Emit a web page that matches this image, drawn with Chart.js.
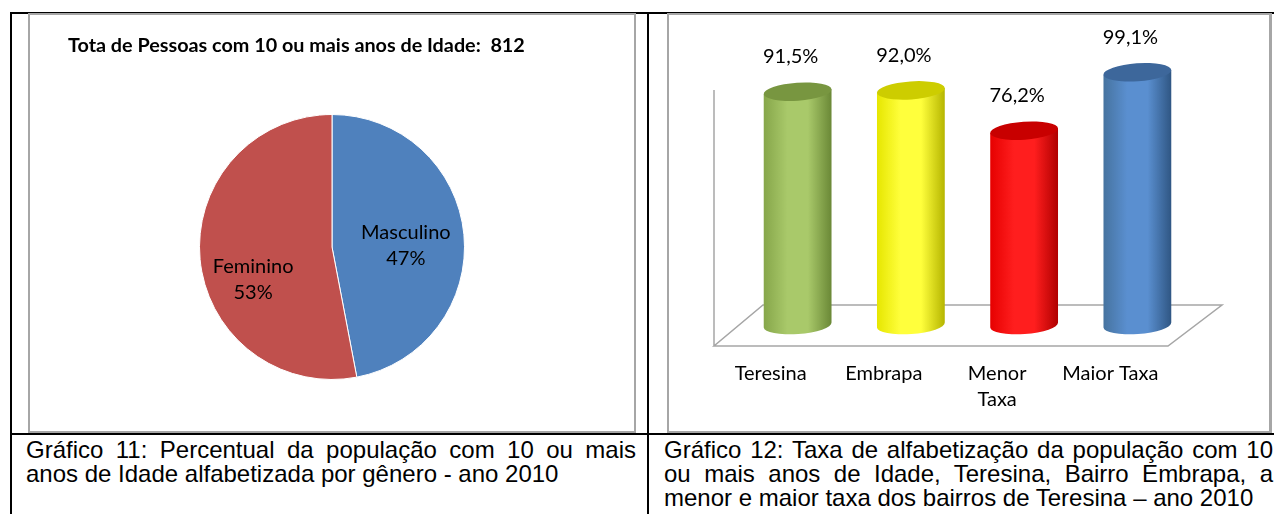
<!DOCTYPE html>
<html lang="pt-BR">
<head>
<meta charset="utf-8">
<script src="https://cdn.jsdelivr.net/npm/chart.js@4.4.1/dist/chart.umd.min.js"></script>
<style>
  html, body { margin: 0; padding: 0; background: #fff; }
  body { position: relative; width: 1274px; height: 514px; overflow: hidden; font-family: "Liberation Sans", Arial, sans-serif; }
  .rule { position: absolute; background: #000; }
  .frame { position: absolute; box-sizing: border-box; border: 2px solid #a6a6a6; background: #fff; }
  canvas { position: absolute; }
  .caption { position: absolute; top: 438px; font-size: 24px; line-height: 24px; color: #000; }
  .caption .j { text-align: justify; text-align-last: justify; }
</style>
</head>
<body>
<div class="rule" style="left:10px;top:12px;width:1264px;height:2px"></div>
<div class="rule" style="left:10px;top:12px;width:2px;height:502px"></div>
<div class="rule" style="left:647px;top:12px;width:2px;height:502px"></div>
<div class="rule" style="left:10px;top:433px;width:1264px;height:2px"></div>

<div class="frame" style="left:28px;top:13px;width:608px;height:420px"></div>
<div class="frame" style="left:667px;top:13px;width:605px;height:420px;border-right-width:3px"></div>

<canvas id="pie" width="604" height="416" style="left:30px;top:15px;width:604px;height:416px"></canvas>
<canvas id="bars" width="601" height="416" style="left:669px;top:15px;width:601px;height:416px"></canvas>

<div class="caption" style="left:26px;width:610px">
  <div class="j">Gráfico 11: Percentual da população com 10 ou mais</div>
  <div>anos de Idade alfabetizada por gênero - ano 2010</div>
</div>
<div class="caption" style="left:664px;width:609px">
  <div class="j">Gráfico 12: Taxa de alfabetização da população com 10</div>
  <div class="j">ou mais anos de Idade, Teresina, Bairro Embrapa, a</div>
  <div>menor e maior taxa dos bairros de Teresina – ano 2010</div>
</div>

<script>
// ── dados ───────────────────────────────────────────────────────────────
const pieTitle   = 'Tota de Pessoas com 10 ou mais anos de Idade:  812';
const genders    = ['Masculino', 'Feminino'];
const genderPct  = [47, 53];

const places     = ['Teresina', 'Embrapa', ['Menor', 'Taxa'], 'Maior Taxa'];
const literacy   = [91.5, 92.0, 76.2, 99.1];

// ── estilos ─────────────────────────────────────────────────────────────
const FONT = 'Lato, "Open Sans", sans-serif';
const pieColors = ['#4F81BD', '#C0504D'];
const cylColors = [
    { edge: '#86A64A', light: '#A9C96A', dark: '#6A8836', top: '#789640' },
    { edge: '#E6E600', light: '#FFFF3C', dark: '#B5B500', top: '#CDCD00' },
    { edge: '#E60000', light: '#FF1E1E', dark: '#B00000', top: '#C80000' },
    { edge: '#46739F', light: '#5A8FD0', dark: '#2F5683', top: '#3D679B' },
];

Chart.defaults.font.family = FONT;
Chart.defaults.color = '#000';

// ── gráfico 11: pizza ──────────────────────────────────────────────────
const pieLabels = {
    id: 'pieLabels',
    afterDatasetsDraw(chart, args, opts) {
        const { ctx } = chart;
        const meta = chart.getDatasetMeta(0);
        const data = chart.data.datasets[0].data;
        const total = data.reduce((a, b) => a + b, 0);
        ctx.save();
        ctx.font = '20px ' + FONT;
        ctx.fillStyle = '#000';
        ctx.textAlign = 'center';
        ctx.textBaseline = 'middle';
        meta.data.forEach((arc, i) => {
            const mid = (arc.startAngle + arc.endAngle) / 2;
            const r = arc.outerRadius * opts.radius;
            const [nx, ny] = opts.nudge[i] || [0, 0];
            const x = arc.x + Math.cos(mid) * r + nx;
            const y = arc.y + Math.sin(mid) * r + ny;
            ctx.fillText(chart.data.labels[i], x, y - 13);
            ctx.fillText(Math.round(data[i] / total * 100) + '%', x, y + 13);
        });
        // título
        ctx.font = 'bold 19.8px ' + FONT;
        ctx.textAlign = 'left';
        ctx.fillText(pieTitle, 38, 31);
        ctx.restore();
    }
};

new Chart(document.getElementById('pie'), {
    type: 'pie',
    data: {
        labels: genders,
        datasets: [{ data: genderPct, backgroundColor: pieColors, borderColor: '#ffffff', borderWidth: 1 }]
    },
    options: {
        responsive: false, animation: false,
        layout: { padding: { left: 169, right: 169, top: 99, bottom: 51 } },
        plugins: {
            legend: { display: false }, tooltip: { enabled: false },
            pieLabels: { radius: 0.56, nudge: [[0, 6], [-5, 26]] }
        }
    },
    plugins: [pieLabels]
});

// ── gráfico 12: cilindros 3D ───────────────────────────────────────────
const floor3d = {
    id: 'floor3d',
    beforeDatasetsDraw(chart) {
        const { ctx, chartArea: a, scales: { y } } = chart;
        const y0 = y.getPixelForValue(0);
        ctx.save();
        ctx.strokeStyle = '#a6a6a6';
        ctx.lineWidth = 1.5;
        ctx.beginPath();
        ctx.moveTo(a.left - 27, y0 + 21);
        ctx.lineTo(a.right - 26, y0 + 21);
        ctx.lineTo(a.right + 28, y0 - 20);
        ctx.lineTo(a.left + 22, y0 - 20);
        ctx.closePath();
        ctx.moveTo(a.left - 27, y0 + 21);
        ctx.lineTo(a.left - 27, a.top + 20);
        ctx.stroke();
        ctx.restore();
    }
};

const cylinders = {
    id: 'cylinders',
    afterDatasetsDraw(chart) {
        const { ctx } = chart;
        const meta = chart.getDatasetMeta(0);
        const ry = 9, rot = -0.07;
        ctx.save();
        meta.data.forEach((bar, i) => {
            const c = cylColors[i];
            const rx = bar.width / 2;
            const cx = bar.x;
            const dx = Math.cos(rot) * rx, dy = Math.sin(rot) * rx;
            const g = ctx.createLinearGradient(cx - rx, 0, cx + rx, 0);
            g.addColorStop(0, c.edge);
            g.addColorStop(0.35, c.light);
            g.addColorStop(0.65, c.light);
            g.addColorStop(1, c.dark);
            ctx.beginPath();
            ctx.moveTo(cx - dx, bar.y - dy);
            ctx.lineTo(cx - dx, bar.base - dy);
            ctx.ellipse(cx, bar.base, rx, ry, rot, Math.PI, 0, true);
            ctx.lineTo(cx + dx, bar.y + dy);
            ctx.closePath();
            ctx.fillStyle = g;
            ctx.fill();
            ctx.beginPath();
            ctx.ellipse(cx, bar.y, rx, ry, rot, 0, Math.PI * 2);
            ctx.fillStyle = c.top;
            ctx.fill();
        });
        // rótulos de valor
        ctx.font = '20px ' + FONT;
        ctx.fillStyle = '#000';
        ctx.textAlign = 'center';
        ctx.textBaseline = 'middle';
        meta.data.forEach((bar, i) => {
            const txt = literacy[i].toFixed(1).replace('.', ',') + '%';
            ctx.fillText(txt, bar.x - 7, bar.y - 35);
        });
        ctx.restore();
    }
};

new Chart(document.getElementById('bars'), {
    type: 'bar',
    data: {
        labels: places,
        datasets: [{ data: literacy, backgroundColor: 'rgba(0,0,0,0)', barPercentage: 0.6, categoryPercentage: 1 }]
    },
    options: {
        responsive: false, animation: false,
        layout: { padding: { left: 72, right: 76, top: 55, bottom: 0 } },
        plugins: { legend: { display: false }, tooltip: { enabled: false } },
        scales: {
            y: { display: false, min: 0, max: 100 },
            x: {
                grid: { display: false, drawTicks: false },
                border: { display: false },
                afterFit(axis) { axis.height = 106; },
                ticks: {
                    autoSkip: false, maxRotation: 0, padding: 36, labelOffset: -27,
                    font: { size: 20, lineHeight: 1.3 }, color: '#000'
                }
            }
        }
    },
    plugins: [floor3d, cylinders]
});
</script>
</body>
</html>
